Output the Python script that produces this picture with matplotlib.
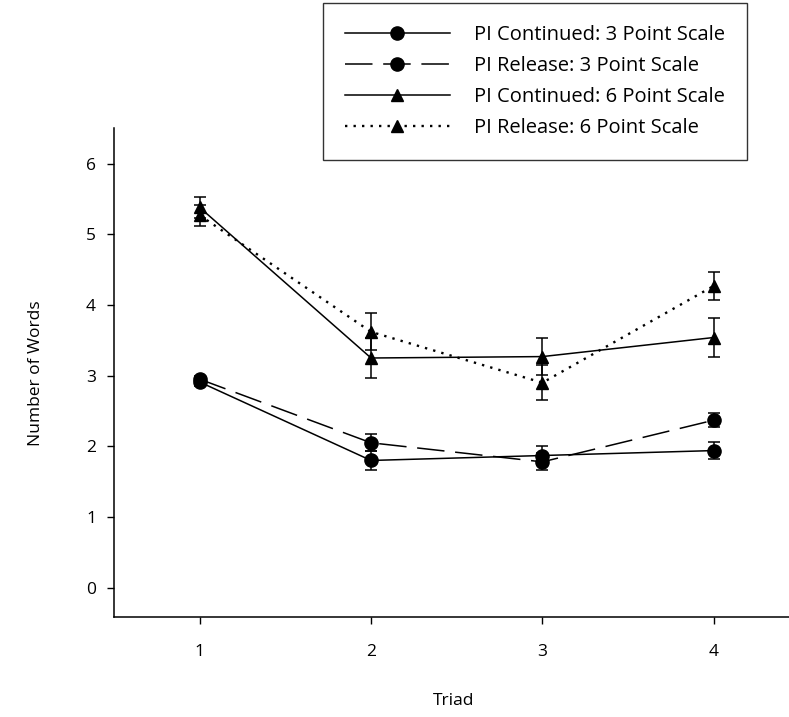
import matplotlib
matplotlib.use("Agg")
import matplotlib.pyplot as plt

triad = [1, 2, 3, 4]

# mean number of words per condition
cont_3pt = [2.91, 1.80, 1.87, 1.94]
rel_3pt = [2.95, 2.05, 1.78, 2.37]
cont_6pt = [5.38, 3.25, 3.27, 3.54]
rel_6pt = [5.27, 3.62, 2.90, 4.27]

# standard errors
cont_3pt_err = [0.05, 0.14, 0.14, 0.12]
rel_3pt_err = [0.05, 0.12, 0.12, 0.10]
cont_6pt_err = [0.15, 0.28, 0.26, 0.27]
rel_6pt_err = [0.15, 0.26, 0.25, 0.20]

labels = ["PI Continued: 3 Point Scale", "PI Release: 3 Point Scale",
          "PI Continued: 6 Point Scale", "PI Release: 6 Point Scale"]

plt.rcParams['font.family'] = ['Open Sans', 'DejaVu Sans']

fig = plt.figure(figsize=(7.89, 7.17), dpi=100)
ax = fig.add_axes([0.1445, 0.139, 0.86, 0.682])

series = [
    (cont_3pt, cont_3pt_err, 'o', '-', 9.5, 1.1),
    (rel_3pt, rel_3pt_err, 'o', (0, (18, 7)), 9.5, 1.1),
    (cont_6pt, cont_6pt_err, '^', '-', 9, 1.1),
    (rel_6pt, rel_6pt_err, '^', (0, (1, 2.6)), 9, 1.7),
]

handles = []
for (vals, errs, mk, ls, ms, lw), lab in zip(series, labels):
    h = ax.errorbar(triad, vals, yerr=errs, color='black', marker=mk, markersize=ms,
                    linestyle=ls, linewidth=lw, elinewidth=1.1, capsize=4.5,
                    capthick=1.1, label=lab)
    handles.append(h.lines[0])

ax.set_xlim(0.5, 4.46)
ax.set_ylim(-0.42, 6.5)
ax.set_xticks(triad)
ax.set_yticks(range(0, 7))
ax.spines['top'].set_visible(False)
ax.spines['right'].set_visible(False)
ax.spines['left'].set_linewidth(1.1)
ax.spines['bottom'].set_linewidth(1.1)
ax.tick_params(direction='out', length=5, width=1, labelsize=12.5, pad=14)
ax.tick_params(axis='y', pad=8)
ax.set_xlabel("Triad", fontsize=12.5, labelpad=24)
ax.set_ylabel("Number of Words", fontsize=12.5, labelpad=30)

leg = fig.legend(handles, labels, loc='upper left', bbox_to_anchor=(0.409, 0.996),
                 fontsize=14.5, handlelength=5.2, handletextpad=1.2,
                 frameon=True, fancybox=False, edgecolor='black',
                 borderpad=1.1, labelspacing=0.55, borderaxespad=0)
leg.get_frame().set_linewidth(1.0)

fig.savefig("out.png", dpi=100, facecolor='white')
